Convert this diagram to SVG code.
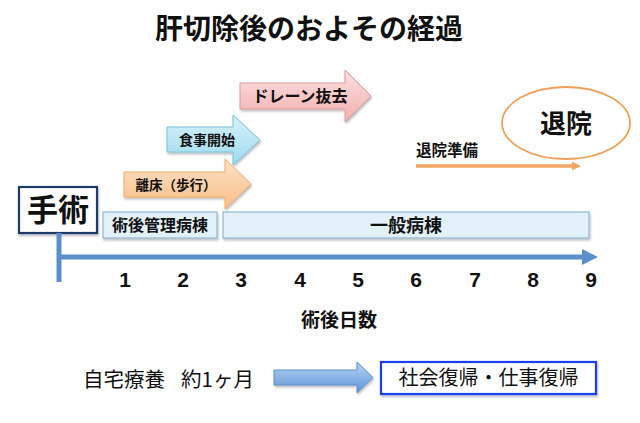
<svg xmlns="http://www.w3.org/2000/svg" width="640" height="423" viewBox="0 0 640 423">
<defs>
<linearGradient id="gPink" x1="0" y1="0" x2="0" y2="1"><stop offset="0" stop-color="#fbe0e0"/><stop offset="1" stop-color="#f2aeae"/></linearGradient>
<linearGradient id="gCyan" x1="0" y1="0" x2="0" y2="1"><stop offset="0" stop-color="#d8f2fa"/><stop offset="1" stop-color="#9edaee"/></linearGradient>
<linearGradient id="gOrange" x1="0" y1="0" x2="0" y2="1"><stop offset="0" stop-color="#fde2c8"/><stop offset="1" stop-color="#f9bd86"/></linearGradient>
<linearGradient id="gBlue" x1="0" y1="0" x2="0" y2="1"><stop offset="0" stop-color="#b9d3f2"/><stop offset="1" stop-color="#5d93d8"/></linearGradient>
<filter id="sh" x="-10%" y="-10%" width="130%" height="140%"><feDropShadow dx="1" dy="2" stdDeviation="1.2" flood-color="#000" flood-opacity="0.25"/></filter>
</defs>
<style>
text{font-family:"Noto Sans CJK JP","Noto Sans",sans-serif;fill:#111}
.b{font-weight:bold}
.num{font-family:"Liberation Sans",Arial,sans-serif;font-weight:bold;font-size:21px;text-anchor:middle}
.ward{fill:#e2f0f8;stroke:#92b6d8;stroke-width:1.2}
</style>
<text x="309" y="39" class="b" font-size="28" text-anchor="middle">肝切除後のおよその経過</text>

<g id="drain">
<path d="M240,83 H345 V70 L371,96 L345,122 V109 H240 Z" fill="url(#gPink)" stroke="#dd9a9a" stroke-width="1" filter="url(#sh)"/>
<text x="300" y="102" class="b" font-size="16" text-anchor="middle">ドレーン抜去</text>
</g>
<g id="meal">
<path d="M167,127 H233 V115 L260,140 L233,165 V152 H167 Z" fill="url(#gCyan)" stroke="#74c2dc" stroke-width="1" filter="url(#sh)"/>
<text x="207" y="145" class="b" font-size="14" text-anchor="middle">食事開始</text>
</g>
<g id="walk">
<path d="M124,172 H225 V159 L251,184 L225,209 V197 H124 Z" fill="url(#gOrange)" stroke="#f2a866" stroke-width="1" filter="url(#sh)"/>
<text x="176" y="190" class="b" font-size="13.5" text-anchor="middle">離床（歩行）</text>
</g>

<g id="discharge">
<ellipse cx="566" cy="123" rx="64" ry="36" fill="#fff" stroke="#f0a055" stroke-width="1.8"/>
<text x="566" y="133" class="b" font-size="26" text-anchor="middle">退院</text>
</g>
<g id="prep">
<text x="416" y="156" class="b" font-size="15.5">退院準備</text>
</g>

<g id="surgery">
<rect x="19" y="187" width="78" height="46" fill="#fff" stroke="#1f3a66" stroke-width="2.2" filter="url(#sh)"/>
<text x="58" y="221" class="b" font-size="31" text-anchor="middle">手術</text>
</g>
<g id="icu">
<rect x="103" y="212" width="114" height="26" class="ward" filter="url(#sh)"/>
<text x="160" y="231" class="b" font-size="16" text-anchor="middle">術後管理病棟</text>
</g>
<g id="general">
<rect x="223" y="212" width="366" height="26" class="ward" filter="url(#sh)"/>
<text x="406" y="232" class="b" font-size="18" text-anchor="middle">一般病棟</text>
</g>

<g id="connectors">
<line x1="416" y1="166" x2="574" y2="166" stroke="#f2a664" stroke-width="3.5"/>
<polygon points="572,161.5 581,166 572,170.5" fill="#f2a664"/>
<line x1="59" y1="233" x2="59" y2="282" stroke="#5b8fcb" stroke-width="5"/>
<line x1="57" y1="257" x2="583" y2="257" stroke="#5b8fcb" stroke-width="5"/>
<polygon points="582,249 598,257 582,265" fill="#5b8fcb"/>
<path d="M274,370 H357 V362 L373,377.5 L357,393 V385 H274 Z" fill="url(#gBlue)" stroke="#5b8cd0" stroke-width="1" filter="url(#sh)"/>
</g>

<g id="axis-labels">
<text x="125" y="287" class="num">1</text>
<text x="183" y="287" class="num">2</text>
<text x="241" y="287" class="num">3</text>
<text x="300" y="287" class="num">4</text>
<text x="358" y="287" class="num">5</text>
<text x="416" y="287" class="num">6</text>
<text x="475" y="287" class="num">7</text>
<text x="533" y="287" class="num">8</text>
<text x="591" y="287" class="num">9</text>
<text x="339" y="327" class="b" font-size="19" text-anchor="middle">術後日数</text>
</g>

<g id="home">
<text x="83" y="387" font-size="20.5">自宅療養<tspan x="181">約1ヶ月</tspan></text>
</g>
<g id="return">
<rect x="381" y="362" width="215" height="32" fill="#fff" stroke="#1f3cf0" stroke-width="2.2" filter="url(#sh)"/>
<text x="488.5" y="385" font-size="20" text-anchor="middle">社会復帰・仕事復帰</text>
</g>
</svg>
